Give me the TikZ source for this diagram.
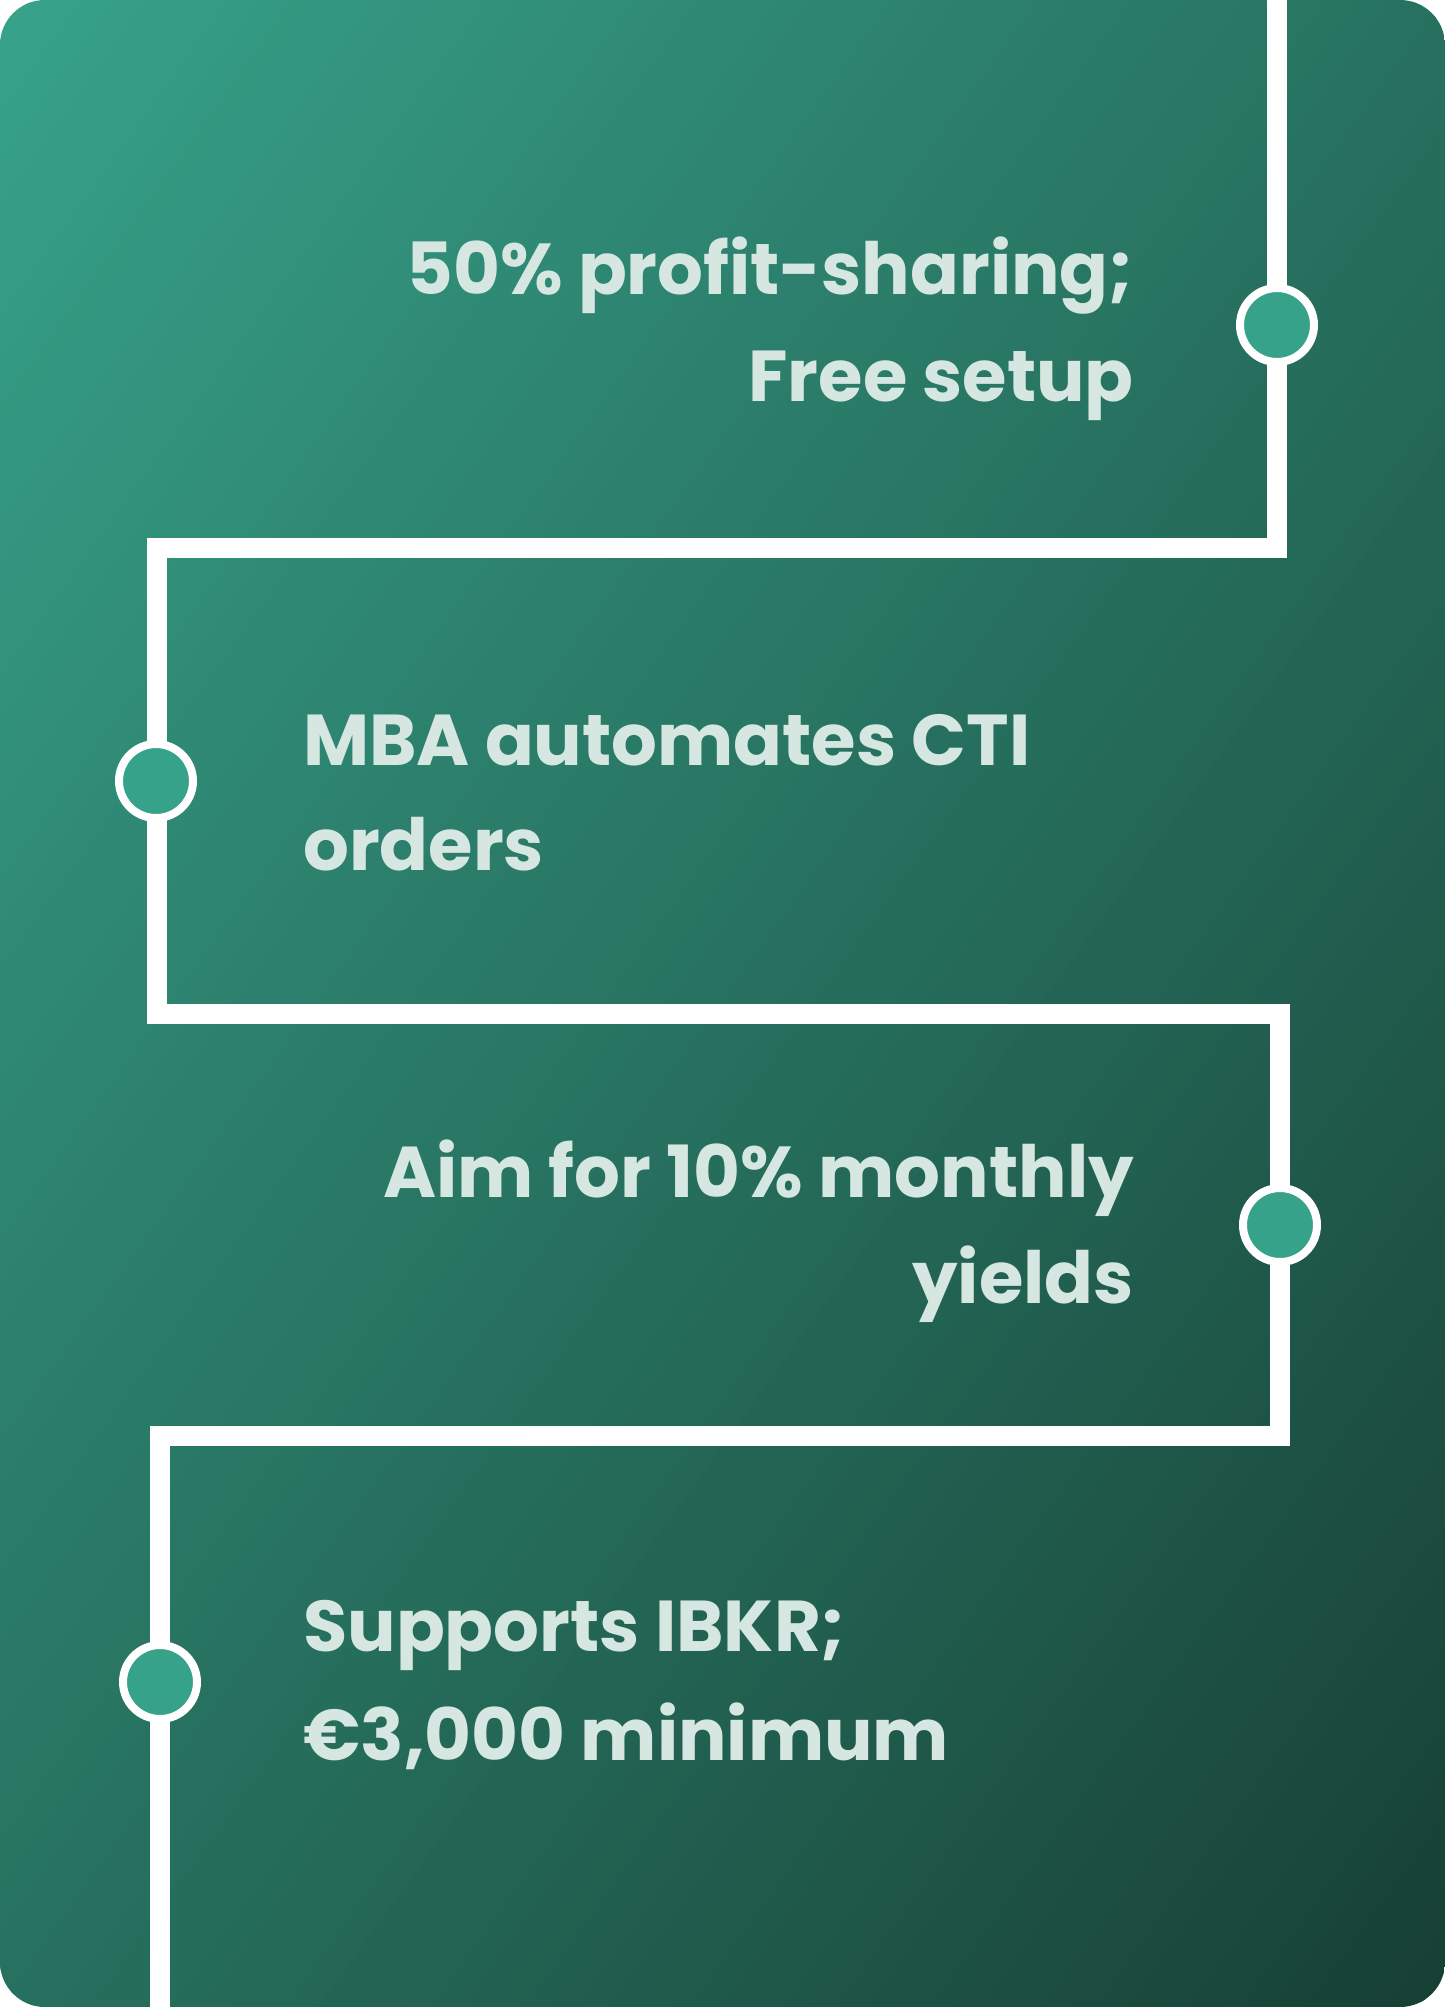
\documentclass[tikz,border=0pt]{standalone}
\usepackage{fontspec}
\newfontfamily\pop{Poppins}
\definecolor{gA}{HTML}{37A28A}
\definecolor{gB}{HTML}{173F34}
\definecolor{dotc}{HTML}{37A28A}
\definecolor{txt}{HTML}{D5E7E0}
\tikzset{
  lbl/.style={text=txt,font=\pop\bfseries\fontsize{72}{100}\selectfont,inner sep=0pt},
  dot/.style={circle,fill=dotc,draw=white,line width=8pt,minimum size=74pt,inner sep=0pt},
  track/.style={white,line width=20pt}
}
\begin{document}
\begin{tikzpicture}[x=1pt,y=-1pt]
\useasboundingbox (0,0) rectangle (1445,2007);
\fill[white] (0,0) rectangle (1445,2007);
\begin{scope}
\clip[rounded corners=45pt] (0,0) rectangle (1445,2007);
\foreach \i in {0,...,99}{
  \pgfmathsetmacro{\ta}{\i*0.02}
  \pgfmathsetmacro{\tb}{\i*0.02+0.022}
  \pgfmathsetmacro{\p}{\i}
  \fill[gB!\p!gA] (1445*\ta,0) -- (1445*\tb,0) -- (0,2007*\tb) -- (0,2007*\ta) -- cycle;
}
\end{scope}
\coordinate (s) at (1277,-20);
\coordinate (a) at (1277,548);
\coordinate (b) at (157,548);
\coordinate (c) at (157,1014);
\coordinate (d) at (1280,1014);
\coordinate (e) at (1280,1436);
\coordinate (f) at (160,1436);
\coordinate (g) at (160,2030);
\draw[track] (s) -- (a) -- (b) -- (c) -- (d) -- (e) -- (f) -- (g);
\node[dot] (d1) at (1277,325) {};
\node[dot] (d2) at (156,781) {};
\node[dot] (d3) at (1280,1225) {};
\node[dot] (d4) at (160,1682) {};
\node[lbl,anchor=base east] (t1a) at (1134,294) {50\% profit-sharing;};
\node[lbl,anchor=base east] (t1b) at (1134,401) {Free setup};
\node[lbl,anchor=base west] (t2a) at (303,765) {MBA automates CTI};
\node[lbl,anchor=base west] (t2b) at (303,870) {orders};
\node[lbl,anchor=base east] (t3a) at (1134,1197) {Aim for 10\% monthly};
\node[lbl,anchor=base east] (t3b) at (1134,1303) {yields};
\node[lbl,anchor=base west] (t4a) at (303,1651) {Supports IBKR;};
\node[lbl,anchor=base west] (t4b) at (303,1760) {€3,000 minimum};
\end{tikzpicture}
\end{document}
